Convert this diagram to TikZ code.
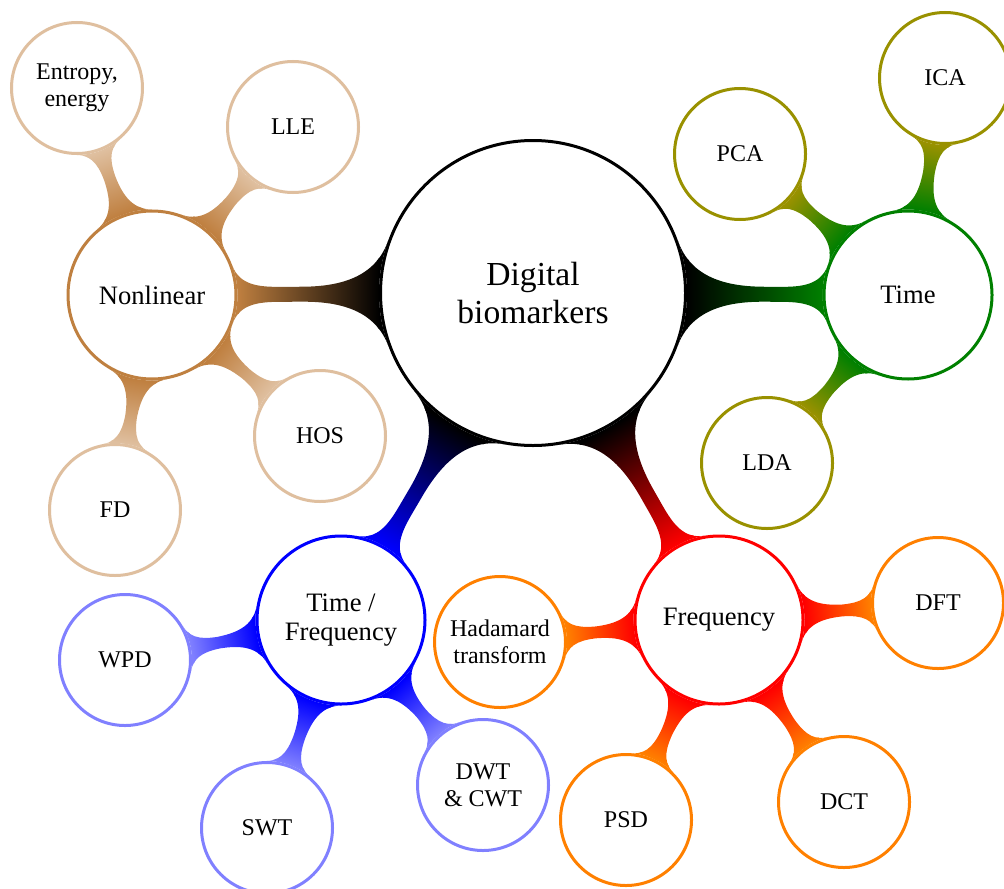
\documentclass[tikz,border=0pt]{standalone}
\usepackage{fontspec}
\setmainfont{Liberation Serif}
\usetikzlibrary{mindmap,backgrounds}
\definecolor{leafbrown}{rgb}{0.875,0.75,0.625}
\definecolor{leafolive}{rgb}{0.6,0.57,0}
\tikzset{
  cnode/.style={circle, draw=#1, line width=1.5pt, fill=white, align=center, inner sep=0pt, text=black},
  rootc/.style={cnode=black, minimum size=152.5pt, font=\fontsize{16.8}{19}\selectfont},
  lvlone/.style={cnode=#1, minimum size=84pt, font=\fontsize{13.3}{14.5}\selectfont},
  leaf/.style={cnode=#1, minimum size=65.5pt, font=\fontsize{12}{13.5}\selectfont},
}
\begin{document}
\begin{tikzpicture}[x=0.5pt,y=-0.5pt]
\useasboundingbox (0,0) rectangle (1004,888);
\node[rootc] (root) at (533,293) {Digital\\biomarkers};
\node[lvlone=brown] (nl) at (152,295) {Nonlinear};
\node[leaf=leafbrown] (ent) at (77,88) {Entropy,\\energy};
\node[leaf=leafbrown] (lle) at (293,127) {LLE};
\node[leaf=leafbrown] (hos) at (320,436) {HOS};
\node[leaf=leafbrown] (fd) at (115,510) {FD};
\node[lvlone=green!50!black] (time) at (908,295) {Time};
\node[leaf=leafolive] (pca) at (740,154) {PCA};
\node[leaf=leafolive] (ica) at (945,78) {ICA};
\node[leaf=leafolive] (lda) at (767,463) {LDA};
\node[lvlone=blue] (tf) at (341,620) {Time /\\Frequency};
\node[leaf=blue!50] (wpd) at (125,660) {WPD};
\node[leaf=blue!50] (swt) at (267,828) {SWT};
\node[leaf=blue!50] (dwt) at (483,785) {DWT\\\& CWT};
\node[lvlone=red] (fr) at (719,620) {Frequency};
\node[leaf=orange] (had) at (500,642) {Hadamard\\transform};
\node[leaf=orange] (dft) at (938,603) {DFT};
\node[leaf=orange] (psd) at (626,820) {PSD};
\node[leaf=orange] (dct) at (844,802) {DCT};
\begin{scope}[on background layer]
\path[line width=7.5pt] (root) to[circle connection bar switch color=from (black) to (brown)] (nl);
\path[line width=7.5pt] (root) to[circle connection bar switch color=from (black) to (green!50!black)] (time);
\path[line width=7.5pt] (root) to[circle connection bar switch color=from (black) to (blue)] (tf);
\path[line width=7.5pt] (root) to[circle connection bar switch color=from (black) to (red)] (fr);
\path[line width=6pt] (nl) to[circle connection bar switch color=from (brown) to (leafbrown)] (ent);
\path[line width=6pt] (nl) to[circle connection bar switch color=from (brown) to (leafbrown)] (lle);
\path[line width=6pt] (nl) to[circle connection bar switch color=from (brown) to (leafbrown)] (hos);
\path[line width=6pt] (nl) to[circle connection bar switch color=from (brown) to (leafbrown)] (fd);
\path[line width=6pt] (time) to[circle connection bar switch color=from (green!50!black) to (leafolive)] (pca);
\path[line width=6pt] (time) to[circle connection bar switch color=from (green!50!black) to (leafolive)] (ica);
\path[line width=6pt] (time) to[circle connection bar switch color=from (green!50!black) to (leafolive)] (lda);
\path[line width=6pt] (tf) to[circle connection bar switch color=from (blue) to (blue!50)] (wpd);
\path[line width=6pt] (tf) to[circle connection bar switch color=from (blue) to (blue!50)] (swt);
\path[line width=6pt] (tf) to[circle connection bar switch color=from (blue) to (blue!50)] (dwt);
\path[line width=6pt] (fr) to[circle connection bar switch color=from (red) to (orange)] (had);
\path[line width=6pt] (fr) to[circle connection bar switch color=from (red) to (orange)] (dft);
\path[line width=6pt] (fr) to[circle connection bar switch color=from (red) to (orange)] (psd);
\path[line width=6pt] (fr) to[circle connection bar switch color=from (red) to (orange)] (dct);
\end{scope}
\end{tikzpicture}
\end{document}
